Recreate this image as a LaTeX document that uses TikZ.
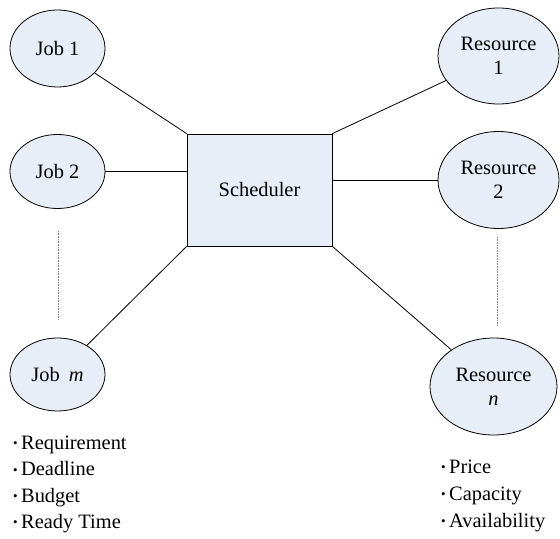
\documentclass[tikz,border=0pt]{standalone}
\usepackage{fontspec}
\setmainfont{Liberation Serif}
\usetikzlibrary{shapes.geometric}
\definecolor{nodefill}{RGB}{232,238,247}
\tikzset{
  every node/.style={font=\fontsize{20.5}{24}\selectfont},
  oval/.style={ellipse, draw, fill=nodefill, line width=0.8bp, inner sep=0pt, align=center},
  box/.style={rectangle, draw, fill=nodefill, line width=0.8bp, inner sep=0pt},
  link/.style={line width=0.8bp},
  gap/.style={densely dotted, line width=0.6bp, gray},
  item/.style={anchor=base west, inner sep=0pt}
}
\newcommand{\bul}{{\fontsize{13}{13}\selectfont\raisebox{0.25ex}{•}}\,}
\begin{document}
\begin{tikzpicture}[x=1bp, y=-1bp]
\useasboundingbox (0,0) rectangle (560,539);
\node[box, minimum width=145bp, minimum height=112bp] (sch) at (259.5,190) {Scheduler};
\node[oval, minimum width=95bp, minimum height=77bp] (j1) at (57.5,48.5) {Job 1};
\node[oval, minimum width=95bp, minimum height=74bp] (j2) at (57.5,171.5) {Job 2};
\node[oval, minimum width=95bp, minimum height=73bp] (jm) at (57.5,374.5) {Job\;\,\textit{m}};
\node[oval, minimum width=121bp, minimum height=96bp] (r1) at (498.5,56) {Resource\\1};
\node[oval, minimum width=121bp, minimum height=97bp] (r2) at (498.5,180) {Resource\\2};
\node[oval, minimum width=127bp, minimum height=97bp] (rn) at (493.5,386.5) {Resource\\\textit{n}};
\draw[link] (j1) -- (sch.north west);
\draw[link] (j2) -- (j2 -| sch.west);
\draw[link] (jm) -- (sch.south west);
\draw[link] (r1) -- (sch.north east);
\draw[link] (r2) -- (r2 -| sch.east);
\draw[link] (rn) -- (sch.south east);
\coordinate (la) at (58,231);
\coordinate (lb) at (58,319);
\coordinate (ra) at (497,237);
\coordinate (rb) at (497,325);
\draw[gap] (la) -- (lb);
\draw[gap] (ra) -- (rb);
\node[item] (t1) at (13,449) {\bul Requirement};
\node[item] (t2) at (13,475.5) {\bul Deadline};
\node[item] (t3) at (13,502) {\bul Budget};
\node[item] (t4) at (13,528) {\bul Ready Time};
\node[item] (u1) at (441,473) {\bul Price};
\node[item] (u2) at (441,500) {\bul Capacity};
\node[item] (u3) at (441,527) {\bul Availability};
\end{tikzpicture}
\end{document}
